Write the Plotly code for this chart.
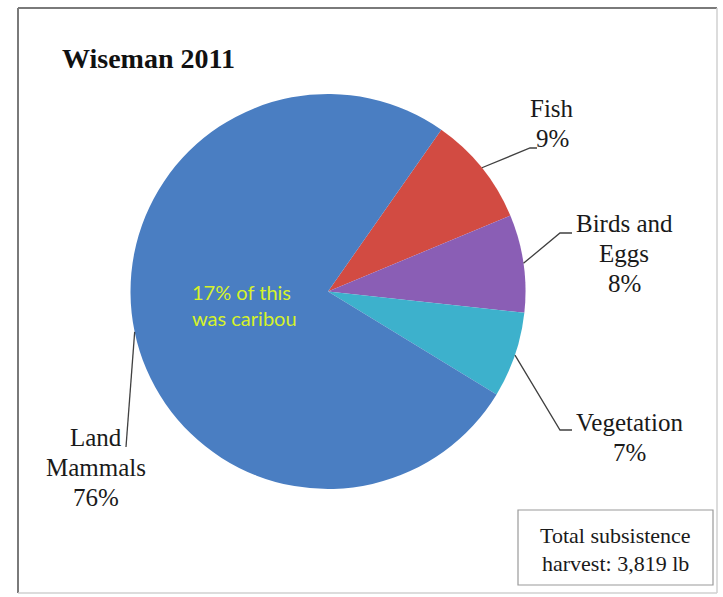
import math
import plotly.graph_objects as go

# Harvest composition, Wiseman 2011 (percent of total pounds)
categories = ["Fish", "Birds and Eggs", "Vegetation", "Land Mammals"]
shares = [9, 8, 7, 76]
label_lines = [["Fish", "9%"], ["Birds and", "Eggs", "8%"], ["Vegetation", "7%"], ["Land", "Mammals", "76%"]]
slice_colors = ["#D24B42", "#8A5EB5", "#3DB1CC", "#4A7EC2"]
title_text = "Wiseman 2011"
note_text = ["17% of this", "was caribou"]
total_text = ["Total subsistence", "harvest: 3,819 lb"]

W, H = 723, 597
ROTATION = 35  # first slice starts 35 degrees clockwise from 12 o'clock

# pie geometry in pixels
CX, CY, R = 328, 291.5, 197.5


def px(x):
    return x / W


def py(y):
    return 1 - y / H


def text_block(lines, x, y_first, spacing, font, align="center"):
    """One annotation per line so the line pitch is set exactly."""
    out = []
    for i, line in enumerate(lines):
        out.append(dict(
            x=px(x), y=py(y_first + i * spacing), xref="paper", yref="paper",
            showarrow=False, xanchor=align, yanchor="middle", text=line, font=font,
        ))
    return out


fig = go.Figure()
fig.add_trace(go.Pie(
    labels=categories,
    values=shares,
    sort=False,
    direction="clockwise",
    rotation=ROTATION,
    textinfo="none",
    hoverinfo="label+percent",
    marker=dict(colors=slice_colors, line=dict(width=0)),
    domain=dict(x=[px(CX - R), px(CX + R)], y=[py(CY + R), py(CY - R)]),
    showlegend=False,
))

# leader lines: start at the arc midpoint of each slice, computed from the data
total = sum(shares)
elbows = {
    "Fish": [(530, 148), (537, 148)],
    "Birds and Eggs": [(560, 233), (572, 233)],
    "Vegetation": [(560, 430), (572, 430)],
    "Land Mammals": [(126, 447)],
}
label_first_line = {
    "Fish": (552, 108),
    "Birds and Eggs": (624, 223),
    "Vegetation": (629, 422),
    "Land Mammals": (96, 437),
}
label_font = dict(family="Liberation Serif", size=25, color="#1a1a1a")

shapes = []
annotations = []
cum = 0.0
for cat, val, lines in zip(categories, shares, label_lines):
    mid = ROTATION + (cum + val / 2) / total * 360
    cum += val
    a = math.radians(mid)
    ex, ey = CX + R * math.sin(a), CY - R * math.cos(a)
    pts = [(ex, ey)] + elbows[cat]
    path = "M " + " L ".join(f"{px(x):.5f},{py(y):.5f}" for x, y in pts)
    shapes.append(dict(type="path", xref="paper", yref="paper", path=path,
                       line=dict(color="#404040", width=1.3)))
    lx, ly = label_first_line[cat]
    annotations += text_block(lines, lx, ly, 30, label_font)

# title
annotations.append(dict(
    x=px(60), y=py(58), xref="paper", yref="paper", showarrow=False,
    xanchor="left", yanchor="middle", text=f"<b>{title_text}</b>",
    font=dict(family="Liberation Serif", size=28, color="#111111"),
))

# note inside the land mammal slice
annotations += text_block(note_text, 190, 292, 26,
                          dict(family="Lato", size=20, color="#D6F22A"), align="left")

# total harvest box
shapes.append(dict(type="rect", xref="paper", yref="paper",
                   x0=px(518), x1=px(713), y0=py(585), y1=py(510),
                   line=dict(color="#9a9a9a", width=1.2), fillcolor="white"))
annotations += text_block(total_text, 615.5, 535, 28,
                          dict(family="Liberation Serif", size=22, color="#1a1a1a"))

# outer chart frame
shapes += [
    dict(type="line", xref="paper", yref="paper", x0=px(18), x1=px(18), y0=py(8), y1=py(593),
         line=dict(color="#7a7a7a", width=2)),
    dict(type="line", xref="paper", yref="paper", x0=px(18), x1=px(717), y0=py(8), y1=py(8),
         line=dict(color="#7a7a7a", width=2)),
    dict(type="line", xref="paper", yref="paper", x0=px(717), x1=px(717), y0=py(8), y1=py(593),
         line=dict(color="#d0d0d0", width=1.5)),
    dict(type="line", xref="paper", yref="paper", x0=px(18), x1=px(717), y0=py(593), y1=py(593),
         line=dict(color="#d0d0d0", width=1.5)),
]

fig.update_layout(
    width=W, height=H,
    margin=dict(l=0, r=0, t=0, b=0),
    paper_bgcolor="white", plot_bgcolor="white",
    shapes=shapes, annotations=annotations,
)

fig.write_html("out.html")
